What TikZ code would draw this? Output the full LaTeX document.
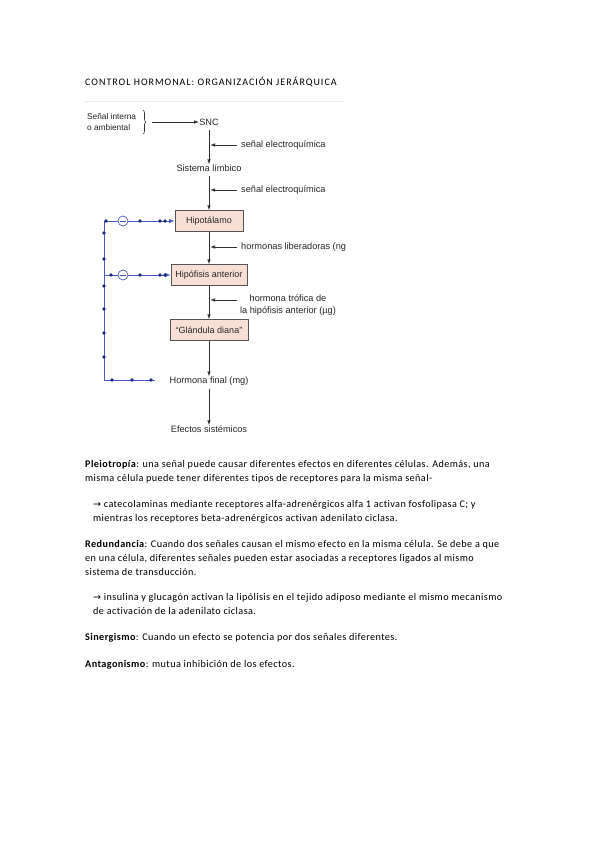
\documentclass[tikz,border=0pt]{standalone}
\usepackage{fontspec}
\setmainfont[Ligatures=NoCommon]{Carlito}
\newfontfamily\diagfont{Liberation Sans}
\newfontfamily\arrfont{DejaVu Sans}
\usetikzlibrary{arrows.meta,decorations.pathreplacing}
\definecolor{boxfill}{HTML}{F8DFD6}
\definecolor{boxline}{HTML}{555555}
\definecolor{fbblue}{HTML}{4A5BC0}
\definecolor{fbdot}{HTML}{1C2A80}
\definecolor{garr}{HTML}{333333}
\begin{document}
\begin{tikzpicture}[x=1pt,y=-1pt,
  dtext/.style={font=\diagfont\fontsize{9.2}{11}\selectfont, text=black!85, inner sep=0pt},
  stext/.style={font=\diagfont\fontsize{8.3}{10.5}\selectfont, text=black!85, inner sep=0pt},
  hbox/.style={draw=boxline, line width=0.7pt, fill=boxfill, minimum height=20.5pt, inner sep=0pt, font=\diagfont\fontsize{9}{11}\selectfont, text=black!85},
  garrow/.style={draw=garr, line width=0.8pt, -{Latex[length=5pt,width=3.5pt]}},
  fbline/.style={draw=fbblue, line width=0.9pt},
  fbarrow/.style={draw=fbblue, line width=0.9pt, -{Latex[length=5.5pt,width=4.5pt]}},
  fdot/.style={circle, fill=fbdot, inner sep=0pt, minimum size=3.6pt},
  minus/.style={circle, draw=fbblue, line width=0.7pt, fill=white, inner sep=0pt, minimum size=10pt},
  body/.style={anchor=base west, inner sep=0pt, font=\addfontfeatures{LetterSpace=4,Ligatures=NoCommon}\fontsize{10.2}{12}\selectfont},
]
\useasboundingbox (0,0) rectangle (599,848);
\fill[white] (0,0) rectangle (599,848);

% title
\node[anchor=base west, inner sep=0pt, font=\addfontfeatures{LetterSpace=10}\fontsize{10}{12}\selectfont] (title) at (85,86) {CONTROL HORMONAL: ORGANIZACIÓN JERÁRQUICA};
\draw[black!8, line width=0.6pt] (84,101) -- (345,101);

% diagram
\node[stext, anchor=west] (sig1) at (87,117) {Señal interna};
\node[stext, anchor=west] (sig2) at (87,128) {o ambiental};
\draw[garr, line width=0.6pt, decorate, decoration={brace, amplitude=3pt}] (143,110) -- (143,134);
\coordinate (bracept) at (152,122);
\node[dtext] (snc) at (209,122) {SNC};
\draw[garrow] (bracept) -- (snc.west);

\node[dtext] (lim) at (209,168) {Sistema límbico};
\coordinate (s1) at (209,130);
\draw[garrow] (s1) -- (lim.north);
\node[dtext, anchor=west] (se1) at (241,145) {señal electroquímica};
\coordinate (j1) at (210,145);
\coordinate (se1s) at (237,145);
\draw[garrow] (se1s) -- (j1);

\node[hbox, minimum width=68pt] (hipo) at (209,221) {Hipotálamo};
\coordinate (l2) at (209,176);
\draw[garrow] (l2) -- (hipo.north);
\node[dtext, anchor=west] (se2) at (241,190) {señal electroquímica};
\coordinate (j2) at (210,190);
\coordinate (se2s) at (237,190);
\draw[garrow] (se2s) -- (j2);

\node[hbox, minimum width=76pt] (hipof) at (209,275) {Hipófisis anterior};
\draw[garrow] (hipo.south) -- (hipof.north);
\begin{scope}
\clip (230,230) rectangle (345,260);
\node[dtext, anchor=west] (hl) at (241,247) {hormonas liberadoras (ng)};
\end{scope}
\coordinate (j3) at (210,247);
\coordinate (hls) at (237,247);
\draw[garrow] (hls) -- (j3);

\node[hbox, minimum width=78pt] (gland) at (209,330) {“Glándula diana”};
\draw[garrow] (hipof.south) -- (gland.north);
\node[dtext, align=center, font=\diagfont\fontsize{9.2}{12.5}\selectfont] (ht) at (288,305) {hormona trófica de\\la hipófisis anterior (µg)};
\coordinate (j4) at (210,300);
\coordinate (hts) at (237,300);
\draw[garrow] (hts) -- (j4);

\node[dtext] (hf) at (209,381) {Hormona final (mg)};
\draw[garrow] (gland.south) -- (hf.north);
\node[dtext] (ef) at (209,429) {Efectos sistémicos};
\coordinate (hfb) at (209,389);
\draw[garrow] (hfb) -- (ef.north);

% feedback loop
\coordinate (c1) at (104,221);
\coordinate (c2) at (104,275);
\coordinate (c3) at (104,380);
\coordinate (fbend) at (155,380);
\draw[fbline] (fbend) -- (c3) -- (c1) -- (118,221);
\draw[fbarrow] (128,221) -- (hipo.west);
\draw[fbline] (c2) -- (118,275);
\draw[fbarrow] (128,275) -- (hipof.west);
\node[minus] (m1) at (123,221) {};
\draw[fbblue, line width=0.7pt] ([xshift=-2.8pt]m1.center) -- ([xshift=2.8pt]m1.center);
\node[minus] (m2) at (123,275) {};
\draw[fbblue, line width=0.7pt] ([xshift=-2.8pt]m2.center) -- ([xshift=2.8pt]m2.center);
\foreach \x in {106,140,160,165} \node[fdot] at (\x,221) {};
\foreach \x in {111,140,160,165} \node[fdot] at (\x,275) {};
\foreach \x in {112,132,151} \node[fdot] at (\x,380) {};
\foreach \y in {233,259,286,309,333,357} \node[fdot] at (104,\y) {};

% body text
\newcommand{\rarr}{{\arrfont\fontsize{9.5}{10}\selectfont →}}
\node[body] (p1) at (85,467) {\textbf{Pleiotropía}: una señal puede causar diferentes efectos en diferentes células. Además, una};
\node[body] (p2) at (85,481) {misma célula puede tener diferentes tipos de receptores para la misma señal-};
\node[body] (p3) at (93,507) {\rarr\ catecolaminas mediante receptores alfa-adrenérgicos alfa 1 activan fosfolipasa C; y};
\node[body] (p4) at (93,521) {mientras los receptores beta-adrenérgicos activan adenilato ciclasa.};
\node[body] (r1) at (85,547) {\textbf{Redundancia}: Cuando dos señales causan el mismo efecto en la misma célula. Se debe a que};
\node[body] (r2) at (85,561) {en una célula, diferentes señales pueden estar asociadas a receptores ligados al mismo};
\node[body] (r3) at (85,575) {sistema de transducción.};
\node[body] (r4) at (93,600) {\rarr\ insulina y glucagón activan la lipólisis en el tejido adiposo mediante el mismo mecanismo};
\node[body] (r5) at (93,614) {de activación de la adenilato ciclasa.};
\node[body] (s1t) at (85,640) {\textbf{Sinergismo}: Cuando un efecto se potencia por dos señales diferentes.};
\node[body] (a1) at (85,667) {\textbf{Antagonismo}: mutua inhibición de los efectos.};
\end{tikzpicture}
\end{document}
